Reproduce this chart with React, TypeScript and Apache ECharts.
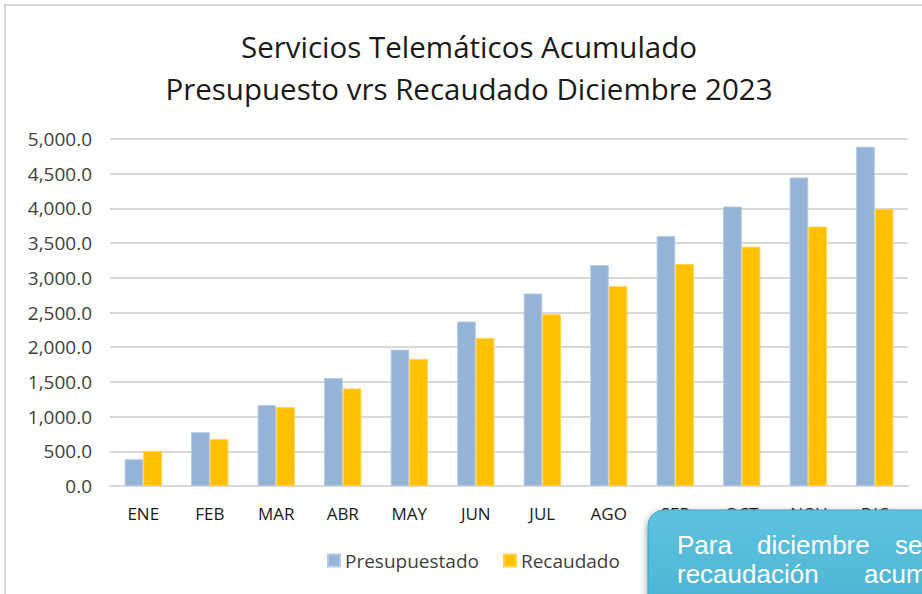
import React, { useEffect, useRef } from "react";
import * as echarts from "echarts";

const titleLines = ["Servicios Telemáticos Acumulado", "Presupuesto vrs Recaudado Diciembre 2023"];
const months = ["ENE", "FEB", "MAR", "ABR", "MAY", "JUN", "JUL", "AGO", "SEP", "OCT", "NOV", "DIC"];
const seriesNames = ["Presupuestado", "Recaudado"];
const presupuestado = [385, 776, 1166, 1555, 1965, 2370, 2774, 3183, 3603, 4027, 4446, 4889];
const recaudado = [506, 675, 1137, 1406, 1830, 2133, 2475, 2880, 3198, 3449, 3738, 3993];
const noteLine1 = ["Para", "diciembre", "se"];
const noteLine2 = ["recaudación", "acumulada"];

const FONT = "'Open Sans', Lato, sans-serif";

export default function App() {
  const ref = useRef<HTMLDivElement>(null);
  useEffect(() => {
    document.body.style.margin = "0";
    const chart = echarts.init(ref.current!, null, { renderer: "svg" });
    const fmt = (v: number) =>
      v.toLocaleString("en-US", { minimumFractionDigits: 1, maximumFractionDigits: 1 });
    const noteX1 = [677, 757, 895];
    const noteX2 = [677, 864];
    chart.setOption({
      animation: false,
      backgroundColor: "#ffffff",
      title: {
        text: titleLines.join("\n"),
        left: 464,
        textAlign: "center",
        top: 20,
        textStyle: {
          fontFamily: FONT,
          fontWeight: "normal",
          fontSize: 29.5,
          lineHeight: 42,
          color: "#1a1a1a",
        },
      },
      legend: {
        data: seriesNames,
        bottom: 19,
        left: 322,
        itemWidth: 12,
        itemHeight: 12,
        itemGap: 24,
        icon: "rect",
        textStyle: { fontFamily: FONT, fontSize: 19, color: "#404040" },
      },
      grid: { left: 110, right: 14, top: 139, bottom: 108, containLabel: false },
      xAxis: {
        type: "category",
        data: months,
        axisLine: { lineStyle: { color: "#d9d9d9", width: 2 } },
        axisTick: { show: false },
        axisLabel: { fontFamily: FONT, fontSize: 17, color: "#1a1a1a", margin: 19 },
      },
      yAxis: {
        type: "value",
        min: 0,
        max: 5000,
        interval: 500,
        axisLine: { show: false },
        axisTick: { show: false },
        splitLine: { lineStyle: { color: "#d9d9d9", width: 2 } },
        axisLabel: {
          fontFamily: FONT,
          fontSize: 19,
          color: "#404040",
          margin: 18,
          formatter: (v: number) => fmt(v),
        },
      },
      series: [
        {
          name: seriesNames[0],
          type: "bar",
          data: presupuestado,
          barWidth: "28%",
          barGap: "0%",
          itemStyle: { color: "#95b3d7", borderColor: "#b4c9e3", borderWidth: 1 },
        },
        {
          name: seriesNames[1],
          type: "bar",
          data: recaudado,
          barWidth: "28%",
          itemStyle: { color: "#ffc000", borderColor: "#ffd24d", borderWidth: 1 },
        },
      ],
      graphic: [
        {
          type: "polyline",
          shape: { points: [[5, 594], [5, 5], [922, 5]] },
          style: { stroke: "#d9d9d9", lineWidth: 2, fill: "none" },
          silent: true,
        },
        {
          type: "rect",
          shape: { x: 648, y: 510, width: 320, height: 130, r: 16 },
          style: {
            fill: new echarts.graphic.LinearGradient(0, 0, 0, 1, [
              { offset: 0, color: "#5ec3df" },
              { offset: 1, color: "#48aecf" },
            ]),
            stroke: "#3f9fc0",
            lineWidth: 1,
            shadowColor: "rgba(0,0,0,0.35)",
            shadowBlur: 6,
            shadowOffsetX: -1,
            shadowOffsetY: 2,
          },
          z: 100,
        },
        ...noteLine1.map((w, i) => ({
          type: "text",
          x: noteX1[i],
          y: 558,
          z: 101,
          style: {
            text: w,
            fill: "#ffffff",
            font: "26px 'Liberation Sans', Arial, sans-serif",
            verticalAlign: "bottom",
          },
        })),
        ...noteLine2.map((w, i) => ({
          type: "text",
          x: noteX2[i],
          y: 587,
          z: 101,
          style: {
            text: w,
            fill: "#ffffff",
            font: "26px 'Liberation Sans', Arial, sans-serif",
            verticalAlign: "bottom",
          },
        })),
      ],
    });
    return () => chart.dispose();
  }, []);
  return (
    <div
      ref={ref}
      style={{ position: "absolute", left: 0, top: 0, width: 922, height: 594, overflow: "hidden" }}
    />
  );
}
